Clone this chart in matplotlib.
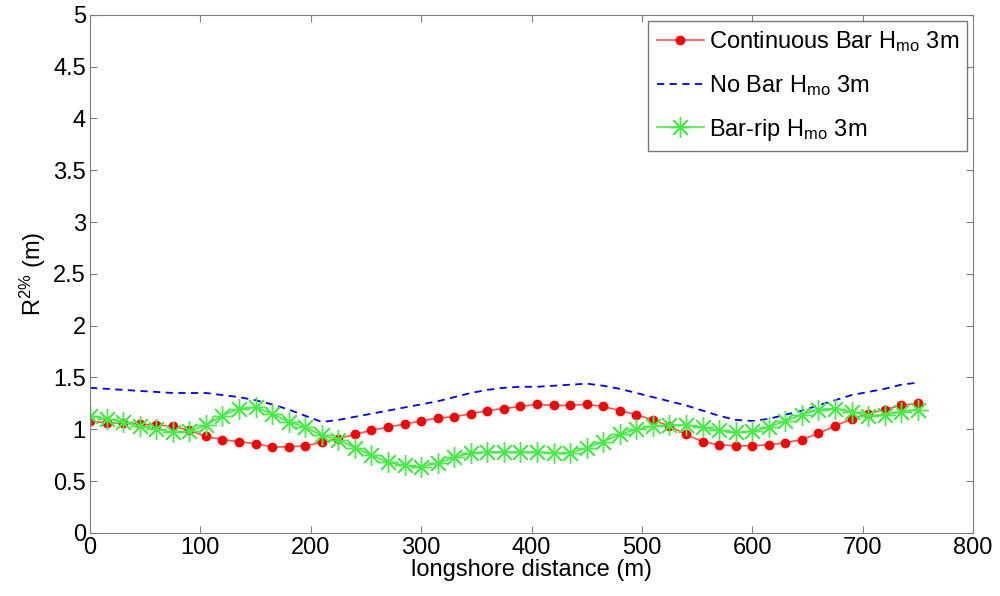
import numpy as np
import matplotlib
matplotlib.use("Agg")
import matplotlib.pyplot as plt
from matplotlib.ticker import FormatStrFormatter

plt.rcParams["font.family"] = ["Liberation Sans", "DejaVu Sans"]
plt.rcParams["mathtext.fontset"] = "custom"
plt.rcParams["mathtext.rm"] = "Liberation Sans"
plt.rcParams["mathtext.it"] = "Liberation Sans"

# longshore positions (m), 15 m spacing
x = np.arange(0, 751, 15)

continuous_bar = [
    1.08, 1.06, 1.06, 1.05, 1.04, 1.03, 0.99, 0.93, 0.90, 0.88,
    0.86, 0.83, 0.83, 0.84, 0.875, 0.91, 0.95, 0.99, 1.02, 1.05,
    1.08, 1.11, 1.12, 1.15, 1.18, 1.20, 1.22, 1.24, 1.23, 1.23,
    1.24, 1.22, 1.18, 1.14, 1.09, 1.03, 0.95, 0.88, 0.85, 0.84,
    0.84, 0.85, 0.87, 0.90, 0.96, 1.03, 1.10, 1.15, 1.19, 1.23,
    1.25,
]
no_bar = [
    1.40, 1.39, 1.38, 1.37, 1.36, 1.35, 1.35, 1.35, 1.33, 1.31,
    1.28, 1.24, 1.19, 1.13, 1.07, 1.09, 1.12, 1.15, 1.18, 1.21,
    1.24, 1.27, 1.31, 1.35, 1.38, 1.40, 1.41, 1.41, 1.42, 1.43,
    1.44, 1.42, 1.39, 1.35, 1.31, 1.27, 1.23, 1.18, 1.13, 1.09,
    1.08, 1.10, 1.14, 1.18, 1.23, 1.28, 1.33, 1.36, 1.39, 1.43,
    1.45,
]
bar_rip = [
    1.13, 1.10, 1.07, 1.03, 1.00, 0.97, 0.98, 1.04, 1.13, 1.20,
    1.21, 1.15, 1.07, 1.02, 0.94, 0.90, 0.82, 0.75, 0.68, 0.65,
    0.64, 0.67, 0.73, 0.77, 0.78, 0.78, 0.78, 0.78, 0.77, 0.77,
    0.82, 0.88, 0.95, 1.00, 1.03, 1.04, 1.04, 1.02, 0.99, 0.97,
    0.98, 1.02, 1.08, 1.14, 1.19, 1.20, 1.17, 1.13, 1.14, 1.17,
    1.19,
]

fig = plt.figure(figsize=(10, 5.96), dpi=100)
ax = fig.add_axes([0.09, 0.106, 0.883, 0.869])

ax.plot(x, continuous_bar, color="#ff5050", lw=1.2, marker="o", ms=6,
        mfc="red", mec="red", label=r"Continuous Bar H$_{\mathrm{mo}}$ 3m")
ax.plot(x, no_bar, color="blue", lw=1.3, ls=(0, (4, 3)),
        label=r"No Bar H$_{\mathrm{mo}}$ 3m")
ax.plot(x, bar_rip, color="#44ee44", lw=1.2, marker=(8, 2, 0), ms=15,
        mew=1.0, label=r"Bar-rip H$_{\mathrm{mo}}$ 3m")

ax.set_xlim(0, 800)
ax.set_ylim(0, 5)
ax.set_xticks(np.arange(0, 801, 100))
ax.set_yticks(np.arange(0, 5.01, 0.5))
ax.yaxis.set_major_formatter(FormatStrFormatter("%g"))
ax.tick_params(direction="in", top=True, right=True, labelsize=17,
               color="#808080", length=5, pad=3)
for s in ax.spines.values():
    s.set_color("#808080")

ax.set_xlabel("longshore distance (m)", fontsize=17, labelpad=0)
ax.set_ylabel(r"R$^{2\%}$ (m)", fontsize=17, labelpad=4)

leg = ax.legend(loc="upper right", fontsize=17, fancybox=False,
                borderaxespad=0.25, handlelength=2.0, handletextpad=0.2,
                labelspacing=0.8, borderpad=0.35)
leg.get_frame().set_edgecolor("#555555")
leg.get_frame().set_linewidth(1.0)

fig.savefig("out.png", dpi=100)
